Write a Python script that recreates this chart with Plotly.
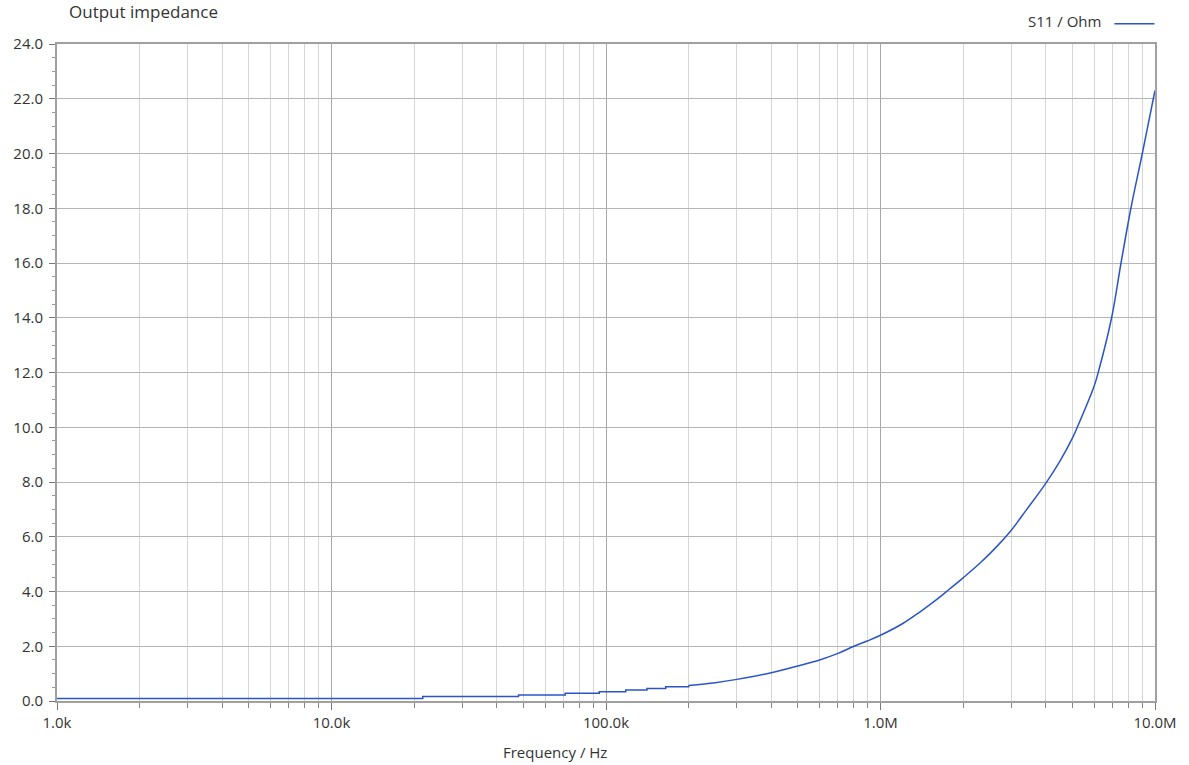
import plotly.graph_objects as go

# Frequency (Hz) and output impedance (Ohm)
# Low-frequency quantised steps (start frequency of each level)
step_freq_hz = [1e3, 21.5e3, 48e3, 71e3, 94.5e3, 118e3, 141e3, 165e3, 200e3]
step_ohm = [0.09, 0.16, 0.22, 0.28, 0.34, 0.40, 0.46, 0.52, 0.57]

# Smooth upper part of the curve
freq_hz = [200e3, 250e3, 300e3, 400e3, 500e3, 600e3, 700e3, 800e3, 900e3,
           1e6, 1.21e6, 1.39e6, 1.6e6, 1.79e6, 2e6, 2.3e6, 2.65e6, 3e6,
           3.4e6, 4e6, 4.5e6, 5e6, 5.21e6, 6e6, 6.21e6, 6.95e6, 7.52e6,
           8.17e6, 8.99e6, 9.86e6, 1e7]
s11_ohm = [0.57, 0.67, 0.79, 1.03, 1.28, 1.50, 1.74, 2.00, 2.20,
           2.40, 2.84, 3.25, 3.70, 4.10, 4.50, 5.03, 5.64, 6.25,
           6.98, 7.95, 8.75, 9.60, 10.0, 11.5, 12.0, 14.0, 16.0,
           18.0, 20.0, 22.0, 22.3]

x_tickvals = [1e3, 1e4, 1e5, 1e6, 1e7]
x_ticktext = ["1.0k", "10.0k", "100.0k", "1.0M", "10.0M"]

FONT = "Open Sans, Noto Sans, sans-serif"
LINE_COLOR = "#2b55c6"

fig = go.Figure()
fig.add_trace(go.Scatter(
    x=step_freq_hz, y=step_ohm, mode="lines", name="", line_shape="hv",
    line=dict(color=LINE_COLOR, width=1.5), showlegend=False,
))
fig.add_trace(go.Scatter(
    x=freq_hz, y=s11_ohm, mode="lines", name="",
    line=dict(color=LINE_COLOR, width=1.5, shape="spline", smoothing=1.0),
    showlegend=True,
))

fig.update_layout(
    width=1189, height=765,
    margin=dict(l=57, r=34, t=44, b=64, autoexpand=False),
    paper_bgcolor="white", plot_bgcolor="white",
    font=dict(family=FONT, size=15, color="#333333"),
    title=dict(text="Output impedance", x=69 / 1189, xanchor="left",
               y=1 - 12 / 765, yanchor="middle",
               font=dict(family=FONT, size=17, color="#333333")),
    showlegend=True,
    legend=dict(x=1.0 + 10 / 1098, xanchor="right",
                yref="container", y=1 - 24 / 765, yanchor="middle",
                orientation="h", bgcolor="rgba(0,0,0,0)",
                title=dict(text="S11 / Ohm", side="left",
                           font=dict(family=FONT, size=15, color="#333333")),
                itemwidth=40, font=dict(size=15)),
    xaxis=dict(
        type="log", range=[3, 7],
        tickmode="array", tickvals=x_tickvals, ticktext=x_ticktext,
        showgrid=True, gridcolor="#a8a8a8", gridwidth=1,
        ticks="outside", ticklen=7, tickcolor="#777777",
        ticklabelstandoff=0,
        showline=True, linecolor="#a0a0a0", linewidth=2, mirror=True,
        minor=dict(dtick="D1", showgrid=True, gridcolor="#d6d6d6", gridwidth=1,
                   ticks="outside", ticklen=5, tickcolor="#888888"),
        zeroline=False,
    ),
    yaxis=dict(
        range=[0, 24], dtick=2, tick0=0, tickformat=".1f",
        showgrid=True, gridcolor="#b4b4b4", gridwidth=1,
        ticks="outside", ticklen=6, tickcolor="#777777",
        ticklabelstandoff=3,
        showline=True, linecolor="#a0a0a0", linewidth=2, mirror=True,
        minor=dict(dtick=0.5, ticks="outside", ticklen=3, tickcolor="#999999",
                   showgrid=False),
        zeroline=False,
    ),
    annotations=[dict(text="Frequency / Hz", xref="paper", yref="paper",
                      x=(555 - 57) / 1098, y=-(752 - 701) / 657,
                      xanchor="center", yanchor="middle", showarrow=False,
                      font=dict(family=FONT, size=15, color="#333333"))],
)

fig.write_html("out.html", config={"displayModeBar": False},
               post_script="document.body.style.margin='0';document.body.style.overflow='hidden';")
